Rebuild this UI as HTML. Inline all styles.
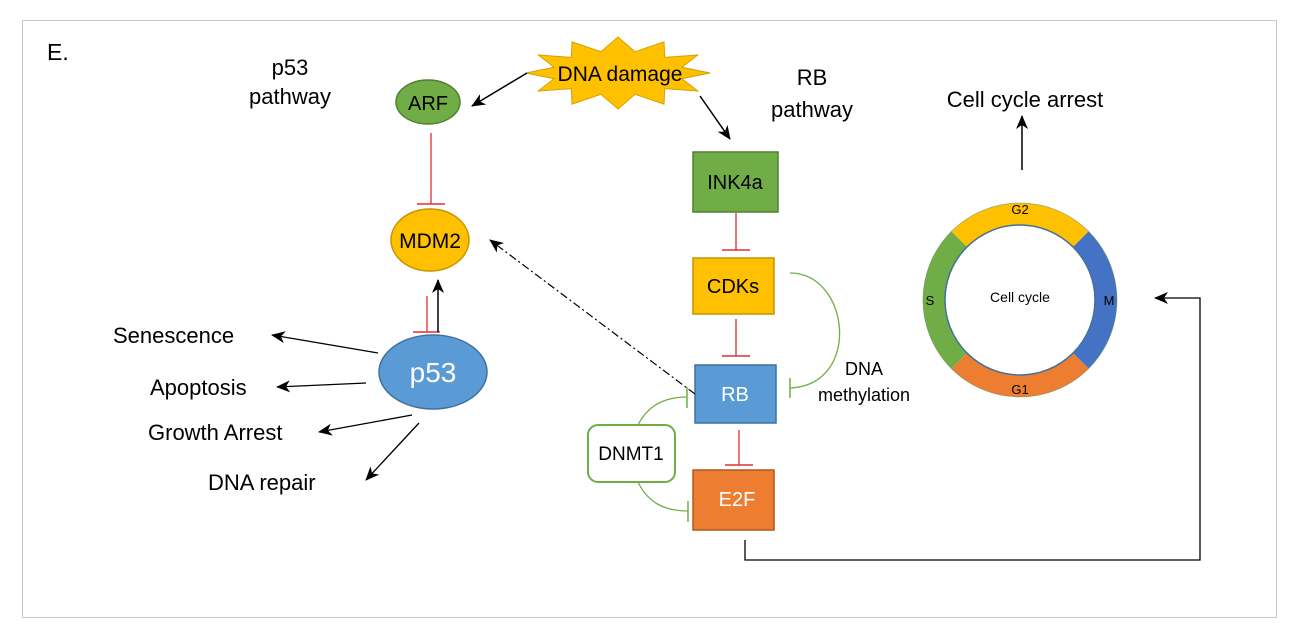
<!DOCTYPE html>
<html><head><meta charset="utf-8"><style>
html,body{margin:0;padding:0;background:#fff;}
svg{display:block;font-family:"Liberation Sans",Calibri,sans-serif;}
</style></head><body>
<svg width="1297" height="639" viewBox="0 0 1297 639" xmlns="http://www.w3.org/2000/svg">
<defs>
<marker id="ar" markerWidth="10" markerHeight="10" refX="9" refY="5" orient="auto" markerUnits="userSpaceOnUse" viewBox="0 0 10 10">
<path d="M0,0 L10,5 L0,10 L3,5 z" fill="#000"/>
</marker>
<marker id="ar2" markerWidth="14" markerHeight="14" refX="13" refY="7" orient="auto" markerUnits="userSpaceOnUse" viewBox="0 0 14 14">
<path d="M0,1 L14,7 L0,13 L4,7 z" fill="#000"/>
</marker>
</defs>
<rect x="0" y="0" width="1297" height="639" fill="#fff"/>
<rect x="22.5" y="20.5" width="1254" height="597" fill="none" stroke="#c8c8c8" stroke-width="1"/>

<text x="47" y="60" font-size="23" fill="#000">E.</text>
<text x="290" y="75" font-size="22" text-anchor="middle">p53</text>
<text x="290" y="104" font-size="22" text-anchor="middle">pathway</text>
<text x="812" y="85" font-size="22" text-anchor="middle">RB</text>
<text x="812" y="117" font-size="22" text-anchor="middle">pathway</text>

<!-- DNA damage star -->
<polygon points="710,73 681.8,78.7 697.7,91 664.7,88.6 664,104.2 635.1,94.3 618,109 600.9,94.3 572,104.2 571.3,88.6 538.3,91 554.2,78.7 526,73 554.2,67.3 538.3,55 571.3,57.4 572,41.8 600.9,51.7 618,37 635.1,51.7 664,41.8 664.7,57.4 697.7,55 681.8,67.3" fill="#ffc000" stroke="#d6a000" stroke-width="1"/>
<text x="620" y="81" font-size="21" text-anchor="middle">DNA damage</text>
<line x1="527" y1="73" x2="472" y2="106" stroke="#000" stroke-width="1.5" marker-end="url(#ar2)"/>
<line x1="700" y1="96" x2="730" y2="139" stroke="#000" stroke-width="1.5" marker-end="url(#ar2)"/>

<!-- ARF -->
<ellipse cx="428" cy="102" rx="32" ry="22" fill="#70ad47" stroke="#507e32" stroke-width="1.5"/>
<text x="428" y="110" font-size="20" text-anchor="middle">ARF</text>
<line x1="431" y1="133" x2="431" y2="204" stroke="#e03030" stroke-width="1.3"/>
<line x1="417" y1="204" x2="445" y2="204" stroke="#e03030" stroke-width="1.5"/>

<!-- MDM2 -->
<ellipse cx="430" cy="240" rx="39" ry="31" fill="#ffc000" stroke="#c49500" stroke-width="1.5"/>
<text x="430" y="248" font-size="21" text-anchor="middle">MDM2</text>
<line x1="427" y1="296" x2="427" y2="332" stroke="#e03030" stroke-width="1.3"/>
<line x1="413" y1="332" x2="440" y2="332" stroke="#e03030" stroke-width="1.5"/>
<line x1="438" y1="332" x2="438" y2="280" stroke="#000" stroke-width="1.5" marker-end="url(#ar2)"/>

<!-- p53 -->
<ellipse cx="433" cy="372" rx="54" ry="37" fill="#5b9bd5" stroke="#41719c" stroke-width="1.5"/>
<text x="433" y="382" font-size="28" fill="#fff" text-anchor="middle">p53</text>
<line x1="378" y1="353" x2="272" y2="335" stroke="#000" stroke-width="1.3" marker-end="url(#ar2)"/>
<line x1="366" y1="383" x2="277" y2="387" stroke="#000" stroke-width="1.3" marker-end="url(#ar2)"/>
<line x1="412" y1="415" x2="319" y2="432" stroke="#000" stroke-width="1.3" marker-end="url(#ar2)"/>
<line x1="419" y1="423" x2="366" y2="480" stroke="#000" stroke-width="1.3" marker-end="url(#ar2)"/>
<text x="113" y="343" font-size="22">Senescence</text>
<text x="150" y="395" font-size="22">Apoptosis</text>
<text x="148" y="440" font-size="22">Growth Arrest</text>
<text x="208" y="490" font-size="22">DNA repair</text>

<!-- RB pathway boxes -->
<rect x="693" y="152" width="85" height="60" fill="#70ad47" stroke="#507e32" stroke-width="1.5"/>
<text x="735" y="189" font-size="20" text-anchor="middle">INK4a</text>
<line x1="736" y1="213" x2="736" y2="250" stroke="#e03030" stroke-width="1.3"/>
<line x1="722" y1="250" x2="750" y2="250" stroke="#e03030" stroke-width="1.5"/>

<rect x="693" y="258" width="81" height="56" fill="#ffc000" stroke="#c49500" stroke-width="1.5"/>
<text x="733" y="293" font-size="20" text-anchor="middle">CDKs</text>
<line x1="736" y1="319" x2="736" y2="356" stroke="#e03030" stroke-width="1.3"/>
<line x1="722" y1="356" x2="750" y2="356" stroke="#e03030" stroke-width="1.5"/>

<rect x="695" y="365" width="81" height="58" fill="#5b9bd5" stroke="#41719c" stroke-width="1.5"/>
<text x="735" y="401" font-size="20" fill="#fff" text-anchor="middle">RB</text>
<line x1="739" y1="430" x2="739" y2="465" stroke="#e03030" stroke-width="1.3"/>
<line x1="725" y1="465" x2="753" y2="465" stroke="#e03030" stroke-width="1.5"/>

<rect x="693" y="470" width="81" height="60" fill="#ed7d31" stroke="#ae5a21" stroke-width="1.5"/>
<text x="737" y="506" font-size="20" fill="#fff" text-anchor="middle">E2F</text>

<!-- DNA methylation arc -->
<path d="M790,273 C850,273 862,385 790,388" fill="none" stroke="#70ad47" stroke-width="1.3"/>
<line x1="790" y1="378" x2="790" y2="398" stroke="#70ad47" stroke-width="1.5"/>
<text x="864" y="375" font-size="18" text-anchor="middle">DNA</text>
<text x="864" y="401" font-size="18" text-anchor="middle">methylation</text>

<!-- DNMT1 -->
<rect x="588" y="425" width="87" height="57" rx="10" fill="#fff" stroke="#70ad47" stroke-width="2"/>
<text x="631" y="460" font-size="19" text-anchor="middle">DNMT1</text>
<path d="M638,425 C648,405 665,397 687,397" fill="none" stroke="#70ad47" stroke-width="1.3"/>
<line x1="687" y1="387" x2="687" y2="408" stroke="#70ad47" stroke-width="1.5"/>
<path d="M638,482 C648,503 665,511 688,511" fill="none" stroke="#70ad47" stroke-width="1.3"/>
<line x1="688" y1="501" x2="688" y2="522" stroke="#70ad47" stroke-width="1.5"/>

<!-- dash-dot to MDM2 -->
<line x1="695" y1="394" x2="490" y2="240" stroke="#000" stroke-width="1.2" stroke-dasharray="8,3,2,3" marker-end="url(#ar2)"/>

<!-- E2F to cell cycle -->
<polyline points="745,540 745,560 1200,560 1200,298 1155,298" fill="none" stroke="#000" stroke-width="1.3" marker-end="url(#ar2)"/>

<!-- Cell cycle ring -->
<g fill="none" stroke-width="22">
<path d="M959.2,239.2 A86,86 0 0 1 1080.8,239.2" stroke="#ffc000"/>
<path d="M1080.8,239.2 A86,86 0 0 1 1080.8,360.8" stroke="#4472c4"/>
<path d="M1080.8,360.8 A86,86 0 0 1 959.2,360.8" stroke="#ed7d31"/>
<path d="M959.2,360.8 A86,86 0 0 1 959.2,239.2" stroke="#70ad47"/>
</g>
<circle cx="1020" cy="300" r="97" fill="none" stroke="#6a8a50" stroke-width="0.8" opacity="0.6"/>
<circle cx="1020" cy="300" r="75" fill="#fff" stroke="#41719c" stroke-width="1.5"/>
<text x="1020" y="302" font-size="14" text-anchor="middle">Cell cycle</text>
<text x="1020" y="214" font-size="13" text-anchor="middle">G2</text>
<text x="1020" y="394" font-size="13" text-anchor="middle">G1</text>
<text x="930" y="305" font-size="13" text-anchor="middle">S</text>
<text x="1109" y="305" font-size="13" text-anchor="middle">M</text>

<line x1="1022" y1="170" x2="1022" y2="116" stroke="#000" stroke-width="1.5" marker-end="url(#ar2)"/>
<text x="1025" y="107" font-size="22" text-anchor="middle">Cell cycle arrest</text>
</svg>
</body></html>
